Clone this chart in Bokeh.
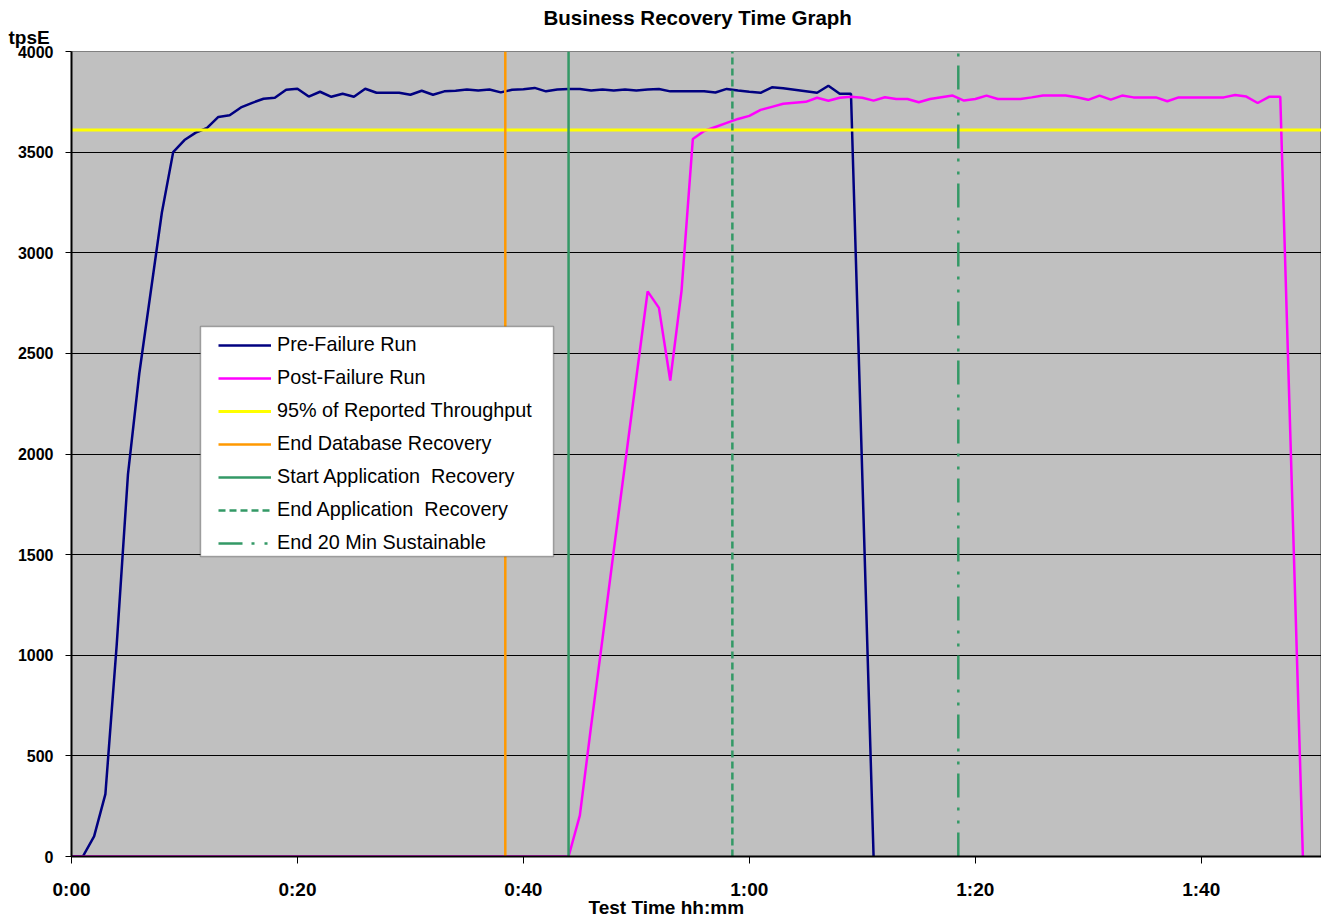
from bokeh.plotting import figure
from bokeh.models import FixedTicker, Legend, LegendItem, BoxAnnotation, Title, Range1d
from bokeh.embed import file_html
from bokeh.resources import INLINE

# ---------------- data ----------------
TITLE = "Business Recovery  Time Graph"
X_TITLE = "Test Time hh:mm"
Y_TITLE = "tpsE"

x_ticks = [0, 20, 40, 60, 80, 100]
x_tick_labels = ["0:00", "0:20", "0:40", "1:00", "1:20", "1:40"]
y_ticks = [0, 500, 1000, 1500, 2000, 2500, 3000, 3500, 4000]

pre_minutes = list(range(0, 70)) + [71]
pre_failure = [0, 0, 100, 310, 1050, 1900, 2400, 2800, 3200, 3500,
               3560, 3597, 3620, 3675, 3683, 3722, 3745, 3765, 3770, 3810,
               3815, 3776, 3800, 3775, 3790, 3775, 3815, 3795, 3795, 3795,
               3785, 3805, 3785, 3802, 3805, 3811, 3806, 3811, 3797, 3810,
               3812, 3819, 3802, 3811, 3814, 3814, 3806, 3811, 3806, 3811,
               3806, 3811, 3814, 3802, 3802, 3802, 3802, 3796, 3814, 3806,
               3800, 3795, 3822, 3817, 3810, 3803, 3795, 3830, 3790, 3790,
               0]

post_minutes = [0, 44] + list(range(45, 108)) + [109]
post_failure = [0, 0,
                204, 650, 1080, 1520, 1950, 2380, 2808, 2726, 2365, 2811,
                3565, 3605, 3625, 3645, 3665, 3680, 3710, 3725, 3740, 3745,
                3750, 3770, 3755, 3770, 3775, 3770, 3756, 3773, 3764, 3764,
                3748, 3764, 3773, 3781, 3756, 3764, 3781, 3764, 3764, 3764,
                3772, 3781, 3781, 3781, 3773, 3760, 3781, 3761, 3781, 3772,
                3772, 3772, 3753, 3772, 3772, 3772, 3772, 3772, 3784, 3776,
                3744, 3775, 3775,
                0]

throughput_95 = 3610
end_db_recovery = 38.4
start_app_recovery = 44.0
end_app_recovery = 58.5
end_20min_sustainable = 78.5

X_MAX = 110.65
Y_MAX = 4000

# ---------------- figure ----------------
FONT = "Liberation Sans"
W, H = 1321, 917
LEFT, TOP, BOTTOM = 71, 51, 61

p = figure(width=W, height=H, output_backend="svg", toolbar_location=None,
           x_range=Range1d(0, X_MAX), y_range=Range1d(0, Y_MAX),
           min_border_left=LEFT, min_border_top=TOP, min_border_bottom=BOTTOM,
           min_border_right=0)
p.background_fill_color = "#C0C0C0"
p.border_fill_color = "white"
p.outline_line_color = "#808080"
p.outline_line_width = 1

p.xgrid.visible = False
p.ygrid.ticker = FixedTicker(ticks=y_ticks)
p.ygrid.grid_line_color = "black"
p.ygrid.grid_line_width = 1

p.xaxis.ticker = FixedTicker(ticks=x_ticks)
p.xaxis.major_label_overrides = {t: l for t, l in zip(x_ticks, x_tick_labels)}
p.yaxis.ticker = FixedTicker(ticks=y_ticks)
for ax in (p.xaxis, p.yaxis):
    ax.axis_line_color = "black"
    ax.axis_line_width = 2
    ax.major_tick_line_color = "black"
    ax.major_tick_in = 0
    ax.minor_tick_line_color = None
    ax.major_label_text_font = FONT
    ax.major_label_text_font_style = "bold"
    ax.major_label_text_color = "black"
p.xaxis.major_tick_out = 7
p.yaxis.major_tick_out = 6
p.xaxis.major_label_text_font_size = "19px"
p.yaxis.major_label_text_font_size = "16px"
p.xaxis.major_label_standoff = 15
p.yaxis.major_label_standoff = 12

# series
r_pre = p.line(pre_minutes, pre_failure, line_color="#000080", line_width=2.5)
r_post = p.line(post_minutes, post_failure, line_color="#FF00FF", line_width=2.5)
r_95 = p.line([0, X_MAX], [throughput_95, throughput_95], line_color="#FFFF00", line_width=3)
r_db = p.line([end_db_recovery, end_db_recovery], [0, Y_MAX], line_color="#FF9900", line_width=2.5)
r_sa = p.line([start_app_recovery, start_app_recovery], [0, Y_MAX], line_color="#339966", line_width=2.5)
r_ea = p.line([end_app_recovery, end_app_recovery], [0, Y_MAX], line_color="#339966",
              line_width=2.5, line_dash="7 4")
r_e20 = p.line([end_20min_sustainable, end_20min_sustainable], [0, Y_MAX], line_color="#339966",
               line_width=2.5, line_dash="24 9 3 10 3 10")

# helpers converting canvas pixel positions to data (for the legend frame)
px_per_x = (W - LEFT) / X_MAX
px_per_y = (H - TOP - BOTTOM) / Y_MAX
def dx(px):
    return (px - LEFT) / px_per_x
def dy(py):
    return (H - BOTTOM - py) / px_per_y

box = BoxAnnotation(left=dx(200), right=dx(553), bottom=dy(556), top=dy(326),
                    fill_color="white", fill_alpha=1, line_color="black", line_width=1.5)
p.add_layout(box)

legend = Legend(items=[
    LegendItem(label="Pre-Failure Run", renderers=[r_pre]),
    LegendItem(label="Post-Failure Run", renderers=[r_post]),
    LegendItem(label="95% of Reported Throughput", renderers=[r_95]),
    LegendItem(label="End Database Recovery", renderers=[r_db]),
    LegendItem(label="Start Application  Recovery", renderers=[r_sa]),
    LegendItem(label="End Application  Recovery", renderers=[r_ea]),
    LegendItem(label="End 20 Min Sustainable", renderers=[r_e20]),
], location=(218 - LEFT, (H - BOTTOM) - 554))
legend.background_fill_alpha = 0
legend.border_line_alpha = 0
legend.padding = 0
legend.margin = 0
legend.spacing = 10
legend.glyph_width = 53
legend.glyph_height = 20
legend.label_height = 20
legend.label_standoff = 6
legend.label_text_font = FONT
legend.label_text_font_size = "19.8px"
legend.label_text_color = "black"
p.add_layout(legend)

# texts outside the frame as titles (left-aligned with pixel offsets from the frame's left edge)
p.title = None
p.add_layout(Title(text=Y_TITLE, align="left", offset=8 - LEFT, standoff=8,
                   text_font=FONT, text_font_style="bold", text_font_size="19px",
                   text_color="black"), "above")
p.add_layout(Title(text=TITLE, align="left", offset=543 - LEFT, standoff=-16,
                   text_font=FONT, text_font_style="bold", text_font_size="20.5px",
                   text_color="black"), "above")
p.add_layout(Title(text=X_TITLE, align="left", offset=588 - LEFT, standoff=-16,
                   text_font=FONT, text_font_style="bold", text_font_size="19px",
                   text_color="black"), "below")

open("out.html", "w").write(file_html(p, INLINE))
